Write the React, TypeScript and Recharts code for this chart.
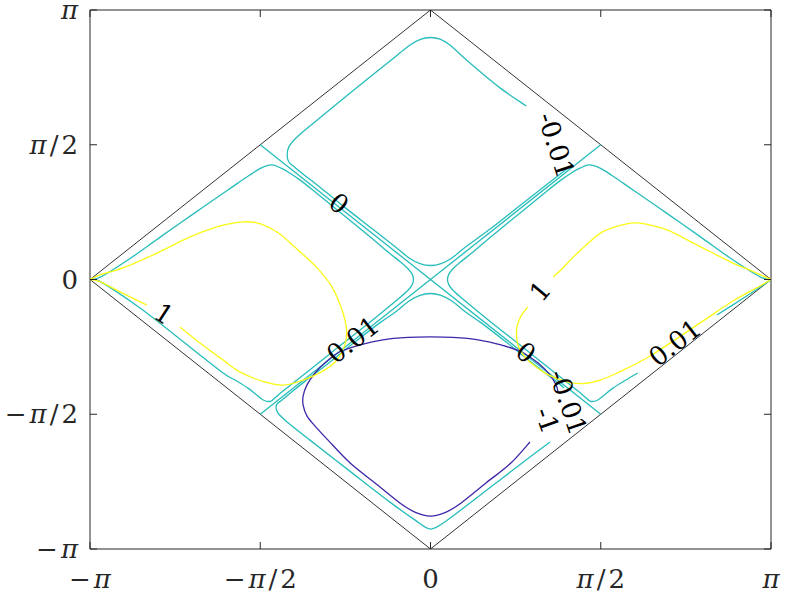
import React from 'react';
import { ScatterChart, Scatter, XAxis, YAxis } from 'recharts';

// All coordinates are in units of pi (axis range -pi..pi -> -1..1)
const xTicks = [-1, -0.5, 0, 0.5, 1];
const yTicks = [-1, -0.5, 0, 0.5, 1];
const tickLabels = ['−π', '−π/2', '0', 'π/2', 'π'];

const diamond = [[-1, 0], [0, 1], [1, 0], [0, -1], [-1, 0]];

// level 0 (straight diagonals)
const zeroDiagA = [[-0.5, 0.5], [0.5, -0.5]];
const zeroDiagB = [[-0.5, -0.5], [0.5, 0.5]];

// level -0.01, top loop (gap at label)
const topLoop = [
  [0.281, 0.644], [0.204, 0.711], [0.116, 0.803], [0.057, 0.87], [0.028, 0.892], [0, 0.898],
  [-0.028, 0.892], [-0.06, 0.87], [-0.119, 0.811], [-0.236, 0.692], [-0.354, 0.57], [-0.395, 0.525],
  [-0.416, 0.492], [-0.421, 0.462], [-0.416, 0.436], [-0.398, 0.416], [-0.369, 0.386], [-0.333, 0.351],
  [-0.26, 0.276], [-0.172, 0.189], [-0.101, 0.119], [-0.063, 0.08], [-0.031, 0.059], [0, 0.052],
  [0.031, 0.059], [0.063, 0.08], [0.101, 0.119], [0.175, 0.187], [0.263, 0.275], [0.336, 0.347],
  [0.404, 0.414],
];

// level 0.01, right loop (two pieces, gap at label)
const rightLoopA = [
  [1, 0], [0.968, 0.01], [0.88, 0.08], [0.792, 0.159], [0.689, 0.25], [0.595, 0.332], [0.533, 0.386],
  [0.498, 0.413], [0.466, 0.425], [0.439, 0.413], [0.416, 0.397], [0.38, 0.366], [0.336, 0.322],
  [0.263, 0.247], [0.175, 0.156], [0.125, 0.102], [0.088, 0.065], [0.066, 0.04], [0.054, 0.02],
  [0.05, 0], [0.054, -0.02], [0.066, -0.04], [0.088, -0.065], [0.125, -0.104], [0.189, -0.17],
  [0.278, -0.258], [0.366, -0.347], [0.433, -0.414], [0.455, -0.437], [0.47, -0.452], [0.49, -0.448],
  [0.507, -0.432], [0.536, -0.403], [0.574, -0.373], [0.609, -0.347],
];
const rightLoopB = [[0.841, -0.132], [0.924, -0.065], [0.977, -0.02], [1, 0]];

// level 0.01, left loop
const leftLoop = [
  [-1, 0], [-0.968, 0.01], [-0.88, 0.08], [-0.792, 0.159], [-0.689, 0.25], [-0.595, 0.332], [-0.533, 0.386],
  [-0.498, 0.413], [-0.466, 0.425], [-0.439, 0.413], [-0.416, 0.397], [-0.38, 0.366], [-0.336, 0.322],
  [-0.263, 0.247], [-0.175, 0.156], [-0.125, 0.102], [-0.088, 0.065], [-0.066, 0.04], [-0.054, 0.02],
  [-0.05, 0], [-0.054, -0.02], [-0.066, -0.04], [-0.088, -0.065], [-0.125, -0.104], [-0.189, -0.17],
  [-0.278, -0.258], [-0.366, -0.347], [-0.433, -0.414], [-0.455, -0.437], [-0.47, -0.452], [-0.49, -0.448],
  [-0.507, -0.432], [-0.536, -0.403], [-0.574, -0.373], [-0.609, -0.347], [-0.706, -0.251], [-0.853, -0.106],
  [-0.971, -0.007], [-1, 0],
];

// level -0.01, bottom loop (gap at label)
const bottomLoop = [
  [0.392, -0.402], [0.369, -0.378], [0.295, -0.306], [0.222, -0.232], [0.148, -0.16], [0.101, -0.119],
  [0.063, -0.08], [0.031, -0.059], [0, -0.052], [-0.031, -0.059], [-0.063, -0.08], [-0.101, -0.119],
  [-0.148, -0.16], [-0.222, -0.232], [-0.295, -0.306], [-0.369, -0.378], [-0.413, -0.423], [-0.436, -0.447],
  [-0.452, -0.465], [-0.45, -0.491], [-0.427, -0.522], [-0.354, -0.596], [-0.236, -0.712], [-0.119, -0.826],
  [-0.046, -0.892], [0, -0.926], [0.046, -0.896], [0.116, -0.829], [0.204, -0.744], [0.292, -0.659],
  [0.351, -0.603],
];

// level -1 loop (gap at label)
const blueLoop = [
  [0.374, -0.414], [0.369, -0.392], [0.351, -0.354], [0.316, -0.31], [0.266, -0.268], [0.207, -0.243],
  [0.14, -0.224], [0.066, -0.215], [0, -0.213], [-0.066, -0.215], [-0.14, -0.224], [-0.207, -0.243],
  [-0.266, -0.268], [-0.307, -0.306], [-0.339, -0.347], [-0.363, -0.392], [-0.374, -0.432], [-0.374, -0.466],
  [-0.363, -0.506], [-0.339, -0.544], [-0.301, -0.596], [-0.236, -0.681], [-0.163, -0.755], [-0.09, -0.829],
  [-0.046, -0.863], [0, -0.878], [0.046, -0.863], [0.09, -0.829], [0.163, -0.755], [0.236, -0.681],
  [0.292, -0.603],
];

// level 1 loops (gaps at labels), split at the diamond corners
const yellowLeftA = [
  [-0.736, -0.176], [-0.677, -0.236], [-0.609, -0.299], [-0.56, -0.343], [-0.495, -0.377], [-0.433, -0.392],
  [-0.374, -0.373], [-0.316, -0.34], [-0.28, -0.306], [-0.26, -0.269], [-0.248, -0.225], [-0.248, -0.169],
  [-0.263, -0.102], [-0.289, -0.028], [-0.333, 0.043], [-0.392, 0.113], [-0.451, 0.176], [-0.51, 0.21],
  [-0.56, 0.213], [-0.627, 0.195], [-0.706, 0.158], [-0.803, 0.098], [-0.903, 0.043], [-0.971, 0.017],
  [-1, 0],
];
const yellowLeftB = [[-1, 0], [-0.971, -0.008], [-0.912, -0.046], [-0.833, -0.095]];
const yellowRightA = [
  [0.36, 0.009], [0.386, 0.039], [0.419, 0.083], [0.454, 0.124], [0.498, 0.171], [0.542, 0.195],
  [0.595, 0.21], [0.63, 0.206], [0.695, 0.184], [0.792, 0.122], [0.888, 0.061], [0.938, 0.035], [1, 0],
];
const yellowRightB = [
  [1, 0], [0.968, -0.024], [0.888, -0.08], [0.792, -0.161], [0.645, -0.284], [0.548, -0.347], [0.498, -0.373],
  [0.448, -0.386], [0.401, -0.38], [0.342, -0.351], [0.292, -0.306], [0.263, -0.262], [0.254, -0.225],
  [0.254, -0.176], [0.266, -0.135], [0.286, -0.102],
];

// inline contour labels
const labelX = [0.369, 0.404, -0.269, 0.28, -0.228, 0.718, 0.342, -0.783, 0.322];
const labelY = [0.499, -0.455, 0.282, -0.271, -0.224, -0.235, -0.523, -0.128, -0.043];
const labelText = ['-0.01', '-0.01', '0', '0', '0.01', '0.01', '-1', '1', '1'];
const labelAngle = [72, 71, 38, 38, -38, -38, 70, 33, -50];

const CYAN = '#26BDBA';
const BLUE = '#3E26A8';
const YELLOW = '#F9FB15';
const AXIS = '#262626';

const toPts = (a: number[][]) => a.map(([x, y]) => ({ x, y }));

const series: { data: number[][]; color: string; w: number; smooth: boolean }[] = [
  { data: diamond, color: '#333333', w: 1, smooth: false },
  { data: zeroDiagA, color: CYAN, w: 1.3, smooth: false },
  { data: zeroDiagB, color: CYAN, w: 1.3, smooth: false },
  { data: topLoop, color: CYAN, w: 1.3, smooth: true },
  { data: rightLoopA, color: CYAN, w: 1.3, smooth: true },
  { data: rightLoopB, color: CYAN, w: 1.3, smooth: true },
  { data: leftLoop, color: CYAN, w: 1.3, smooth: true },
  { data: bottomLoop, color: CYAN, w: 1.3, smooth: true },
  { data: blueLoop, color: BLUE, w: 1.3, smooth: true },
  { data: yellowLeftA, color: YELLOW, w: 1.3, smooth: true },
  { data: yellowLeftB, color: YELLOW, w: 1.3, smooth: true },
  { data: yellowRightA, color: YELLOW, w: 1.3, smooth: true },
  { data: yellowRightB, color: YELLOW, w: 1.3, smooth: true },
];

const labelData = labelText.map((t, i) => ({ x: labelX[i], y: labelY[i], text: t, angle: labelAngle[i] }));

// Catmull-Rom style smooth curve through the points
const smoothCurve: any = (context: any) => {
  let pts: number[][] = [];
  return {
    areaStart() {},
    areaEnd() {},
    lineStart() {
      pts = [];
    },
    point(x: number, y: number) {
      pts.push([+x, +y]);
    },
    lineEnd() {
      const n = pts.length;
      if (!n) return;
      context.moveTo(pts[0][0], pts[0][1]);
      if (n === 2) {
        context.lineTo(pts[1][0], pts[1][1]);
        return;
      }
      for (let i = 0; i < n - 1; i++) {
        const p0 = pts[Math.max(0, i - 1)];
        const p1 = pts[i];
        const p2 = pts[i + 1];
        const p3 = pts[Math.min(n - 1, i + 2)];
        context.bezierCurveTo(
          p1[0] + (p2[0] - p0[0]) / 6,
          p1[1] + (p2[1] - p0[1]) / 6,
          p2[0] - (p3[0] - p1[0]) / 6,
          p2[1] - (p3[1] - p1[1]) / 6,
          p2[0],
          p2[1]
        );
      }
    },
  };
};

const FONT = '"DejaVu Serif", serif';

const piText = (s: string) =>
  s.split('').map((ch, i) =>
    ch === 'π' ? (
      <tspan key={i} fontStyle="italic">π</tspan>
    ) : (
      <tspan key={i}>{ch}</tspan>
    )
  );

const TICK_LEN = 7;

const BottomTick = (props: any) => {
  const { x, y, payload } = props;
  const lbl = tickLabels[xTicks.indexOf(payload.value)];
  return (
    <g>
      <line x1={x} y1={y} x2={x} y2={y - TICK_LEN} stroke={AXIS} strokeWidth={1} />
      <text x={x + 1.5} y={y + 39} textAnchor="middle" fontFamily={FONT} fontSize={26} letterSpacing={3} fill={AXIS}>
        {piText(lbl)}
      </text>
    </g>
  );
};

const TopTick = (props: any) => {
  const { x, y } = props;
  return <line x1={x} y1={y} x2={x} y2={y + TICK_LEN} stroke={AXIS} strokeWidth={1} />;
};

const LeftTick = (props: any) => {
  const { x, y, payload } = props;
  const lbl = tickLabels[yTicks.indexOf(payload.value)];
  return (
    <g>
      <line x1={x} y1={y} x2={x + TICK_LEN} y2={y} stroke={AXIS} strokeWidth={1} />
      <text x={x - 9} y={y + 9} textAnchor="end" fontFamily={FONT} fontSize={26} letterSpacing={3} fill={AXIS}>
        {piText(lbl)}
      </text>
    </g>
  );
};

const RightTick = (props: any) => {
  const { x, y } = props;
  return <line x1={x} y1={y} x2={x - TICK_LEN} y2={y} stroke={AXIS} strokeWidth={1} />;
};

const NoDot = () => <g />;

const LabelShape = (p: any) => {
  const d = p.payload ?? p;
  const cx = p.cx;
  const cy = p.cy;
  return (
    <text
      x={cx}
      y={cy}
      transform={`rotate(${d.angle} ${cx} ${cy})`}
      textAnchor="middle"
      dominantBaseline="central"
      fontFamily={FONT}
      fontSize={26}
      fill="#000"
    >
      {d.text}
    </text>
  );
};

export default function App() {
  return (
    <div style={{ position: 'absolute', left: 0, top: 0, background: '#fff' }}>
      <ScatterChart width={789} height={602} margin={{ top: 9, right: 17, bottom: 0, left: 0 }}>
        <XAxis
          xAxisId="b"
          dataKey="x"
          type="number"
          domain={[-1, 1]}
          ticks={xTicks}
          allowDataOverflow
          height={53}
          tickSize={0}
          tickMargin={0}
          axisLine={{ stroke: AXIS }}
          tickLine={false}
          tick={<BottomTick />}
          interval={0}
        />
        <XAxis
          xAxisId="t"
          dataKey="x"
          type="number"
          orientation="top"
          domain={[-1, 1]}
          ticks={xTicks}
          allowDataOverflow
          height={1}
          tickSize={0}
          tickMargin={0}
          axisLine={{ stroke: AXIS }}
          tickLine={false}
          tick={<TopTick />}
          interval={0}
        />
        <YAxis
          yAxisId="l"
          dataKey="y"
          type="number"
          domain={[-1, 1]}
          ticks={yTicks}
          allowDataOverflow
          width={90}
          tickSize={0}
          tickMargin={0}
          axisLine={{ stroke: AXIS }}
          tickLine={false}
          tick={<LeftTick />}
          interval={0}
        />
        <YAxis
          yAxisId="r"
          dataKey="y"
          type="number"
          orientation="right"
          domain={[-1, 1]}
          ticks={yTicks}
          allowDataOverflow
          width={1}
          tickSize={0}
          tickMargin={0}
          axisLine={{ stroke: AXIS }}
          tickLine={false}
          tick={<RightTick />}
          interval={0}
        />
        {series.map((s, i) => (
          <Scatter
            key={i}
            xAxisId={i === 0 ? 't' : 'b'}
            yAxisId={i === 0 ? 'r' : 'l'}
            data={toPts(s.data)}
            fill={s.color}
            line={{ stroke: s.color, strokeWidth: s.w }}
            lineType="joint"
            lineJointType={s.smooth ? smoothCurve : 'linear'}
            shape={NoDot}
            isAnimationActive={false}
          />
        ))}
        <Scatter
          xAxisId="b"
          yAxisId="l"
          data={labelData}
          fill="#000"
          shape={LabelShape}
          isAnimationActive={false}
        />
      </ScatterChart>
    </div>
  );
}
